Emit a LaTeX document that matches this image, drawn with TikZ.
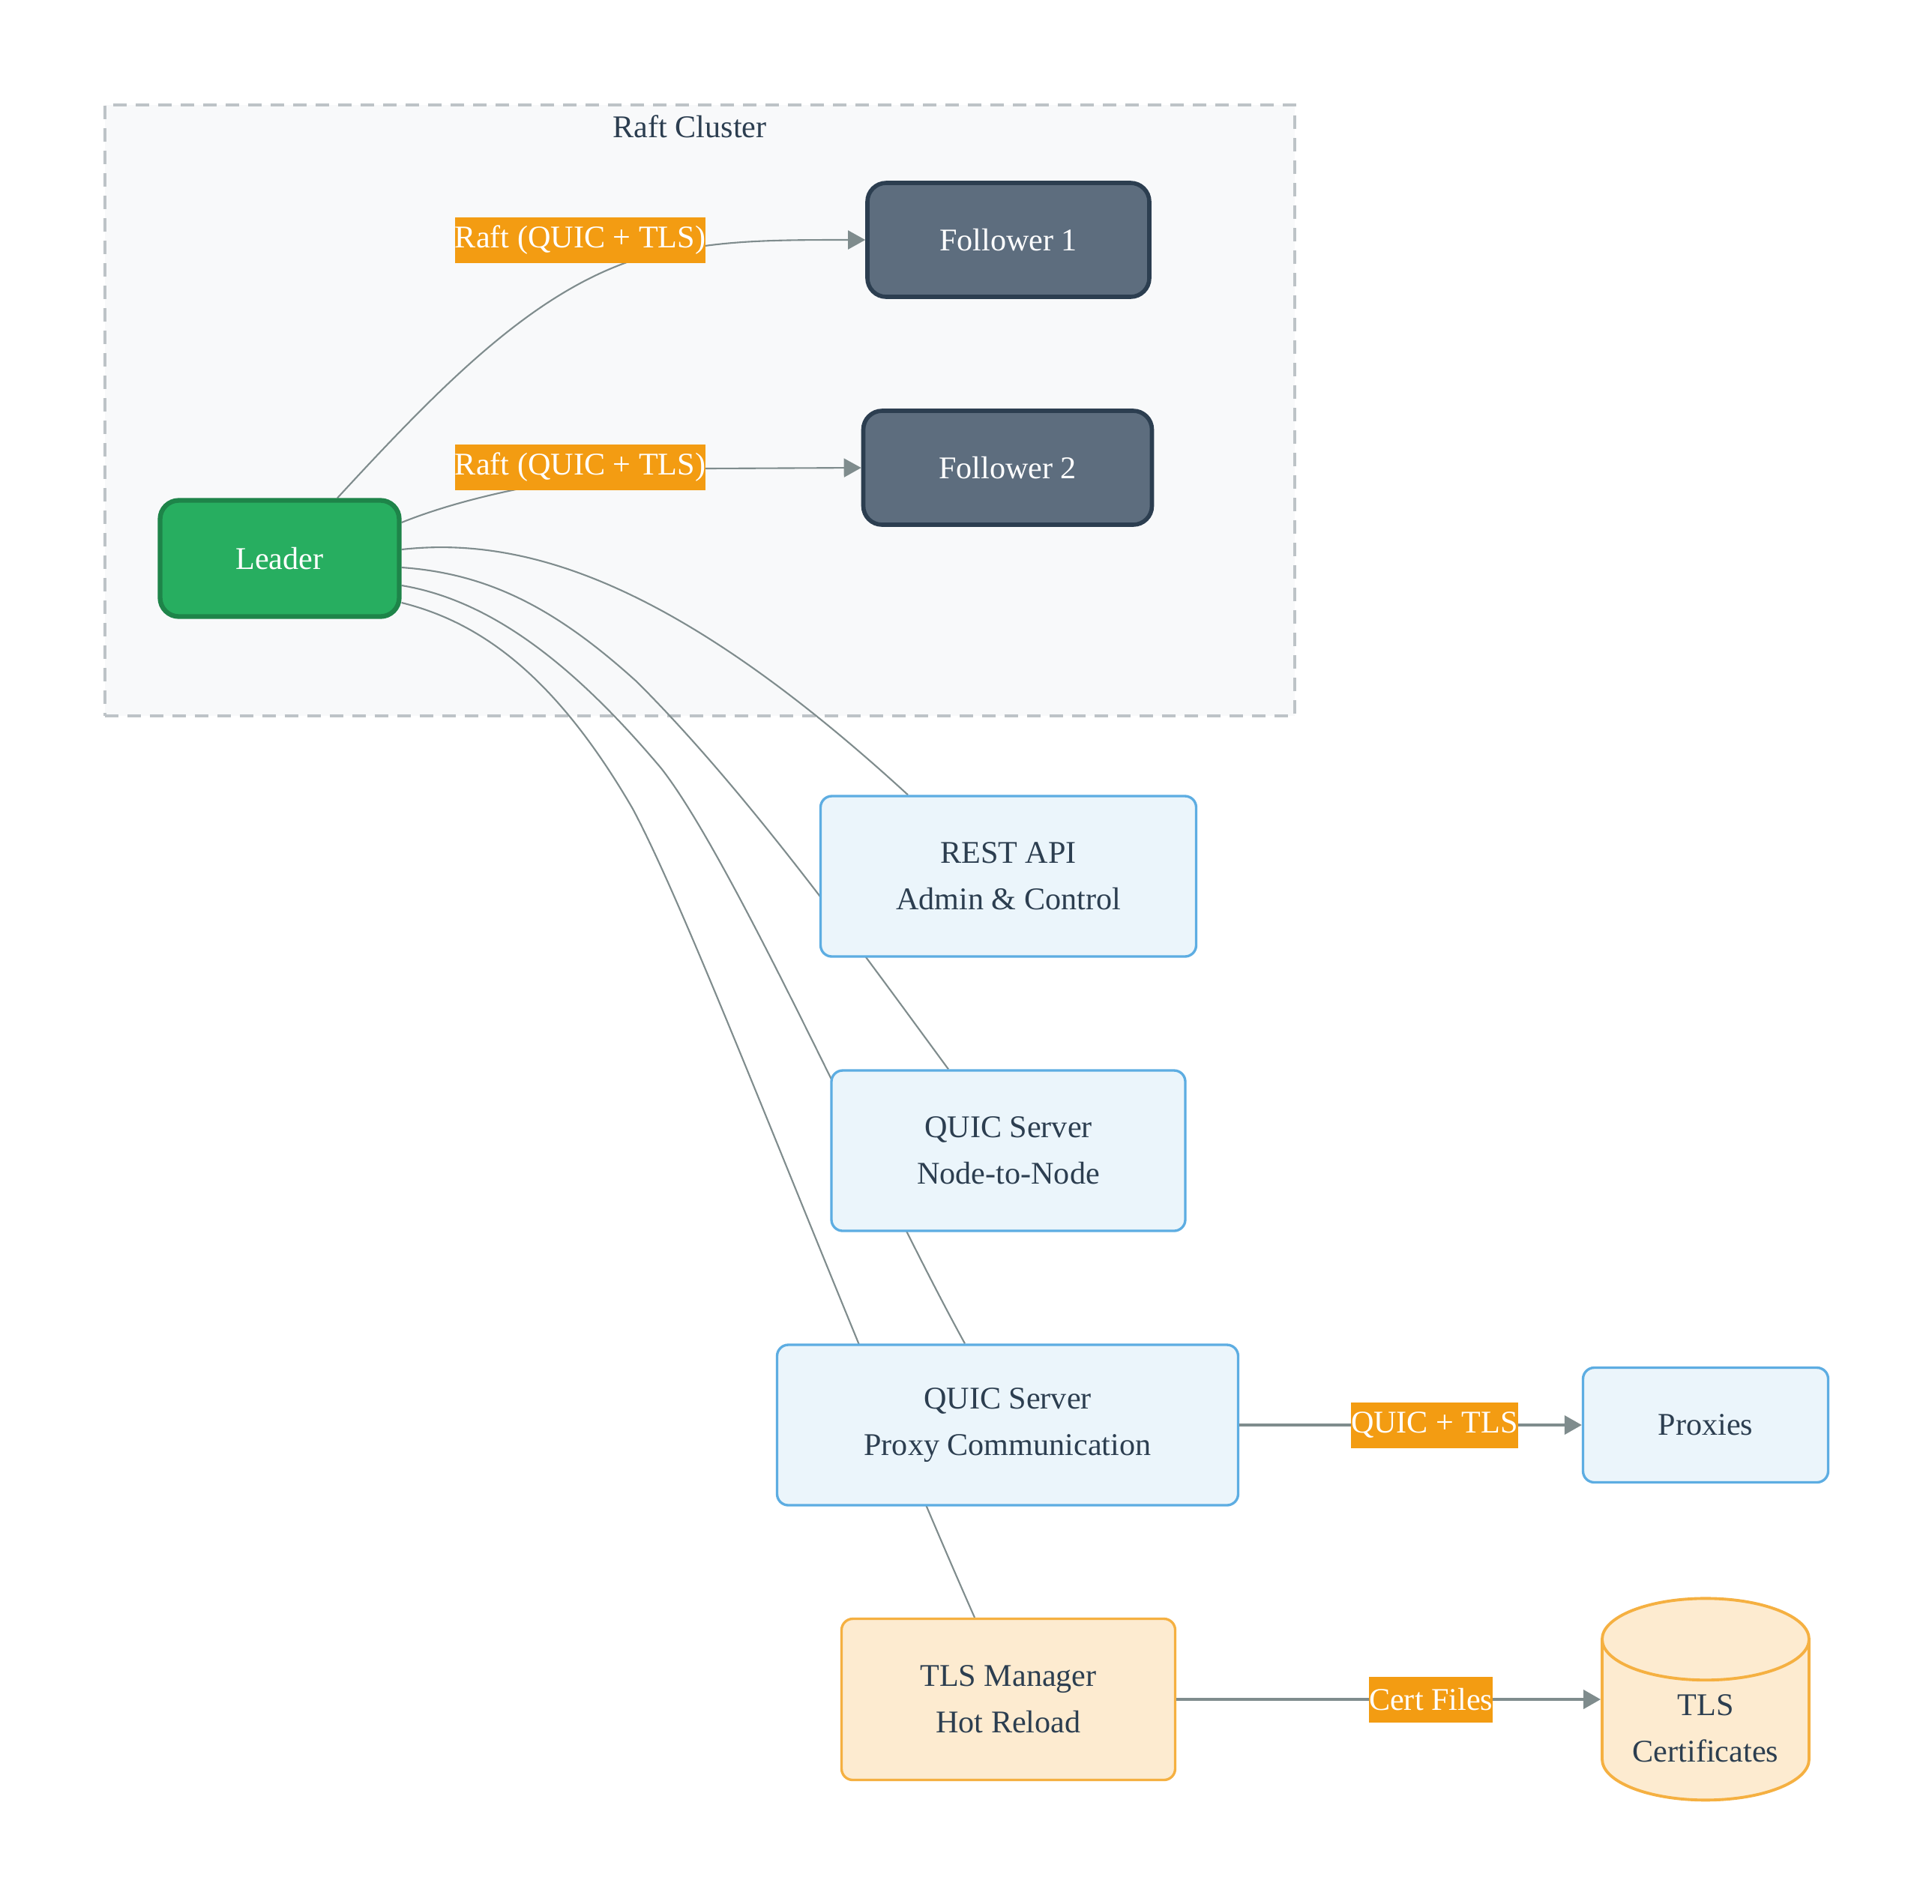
\documentclass[tikz,border=0pt]{standalone}
\usepackage{fontspec}
\setmainfont{Liberation Serif}
\usetikzlibrary{arrows.meta,shapes.geometric,backgrounds}
\definecolor{ink}{HTML}{2C3E50}
\definecolor{leadfill}{HTML}{27AE60}
\definecolor{leadline}{HTML}{1E8449}
\definecolor{folfill}{HTML}{5D6D7E}
\definecolor{folline}{HTML}{2C3E50}
\definecolor{svcfill}{HTML}{EBF5FB}
\definecolor{svcline}{HTML}{5DADE2}
\definecolor{tlsfill}{HTML}{FDEBD0}
\definecolor{tlsline}{HTML}{F5B041}
\definecolor{edgelab}{HTML}{F39C12}
\definecolor{edgeline}{HTML}{7F8C8D}
\definecolor{clusfill}{HTML}{F8F9FA}
\definecolor{clusline}{HTML}{BDC3C7}
\tikzset{
  box/.style={draw, rounded corners=0.15cm, align=center, text=ink, line width=0.95pt, font=\fontsize{12}{17.6}\selectfont},
  kleader/.style={box, fill=leadfill, draw=leadline, line width=1.8pt, rounded corners=0.25cm, text=white, minimum width=3.19cm, minimum height=1.55cm},
  kfollower/.style={box, fill=folfill, draw=folline, line width=1.6pt, rounded corners=0.25cm, text=white, minimum height=1.52cm},
  kservice/.style={box, fill=svcfill, draw=svcline, minimum height=2.14cm},
  kproxy/.style={box, fill=svcfill, draw=svcline, minimum height=1.53cm},
  ktls/.style={box, fill=tlsfill, draw=tlsline, minimum height=2.15cm},
  kstore/.style={cylinder, shape border rotate=90, aspect=0.5, draw=tlsline, fill=tlsfill, line width=1.1pt, align=center, text=ink, font=\fontsize{12}{17.6}\selectfont, minimum width=2.76cm, minimum height=2.69cm},
  klabel/.style={fill=edgelab, text=white, inner xsep=0pt, inner ysep=0pt, minimum height=0.61cm, font=\fontsize{12}{14}\selectfont},
  kcluster/.style={draw=clusline, fill=clusfill, line width=1.4pt, dash pattern=on 0.18cm off 0.12cm, minimum width=15.87cm, minimum height=8.15cm},
  link/.style={draw=edgeline, line width=0.6pt},
  flow/.style={link, -{Triangle[length=0.23cm, width=0.25cm]}},
  bigflow/.style={flow, line width=1.1pt},
}

\begin{document}
\begin{tikzpicture}
  \useasboundingbox (0,0) rectangle (25.77,-25.39);
  % nodes
  \node[kleader] (leader) at (3.73,-7.45) {Leader};
  \node[kfollower, minimum width=3.76cm] (fol1) at (13.45,-3.20) {Follower 1};
  \node[kfollower, minimum width=3.85cm] (fol2) at (13.44,-6.24) {Follower 2};
  \node[kservice, minimum width=5.01cm] (rest) at (13.45,-11.69) {REST API\\Admin \& Control};
  \node[kservice, minimum width=4.72cm] (qnode) at (13.45,-15.35) {QUIC Server\\Node-to-Node};
  \node[kservice, minimum width=6.15cm] (qproxy) at (13.44,-19.01) {QUIC Server\\Proxy Communication};
  \node[kproxy, minimum width=3.27cm] (proxies) at (22.75,-19.01) {Proxies};
  \node[ktls, minimum width=4.45cm] (tlsmgr) at (13.45,-22.67) {TLS Manager\\Hot Reload};
  \node[kstore] (certs) at (22.75,-23.06) {TLS\\Certificates};
  \node[klabel] (l1) at (7.74,-3.20) {Raft (QUIC + TLS)};
  \node[klabel] (l2) at (7.74,-6.23) {Raft (QUIC + TLS)};

  \begin{scope}[on background layer]
    \fill[white] (0,0) rectangle (25.77,-25.39);
    \node[kcluster] (cluster) at (9.335,-5.475) {};
    \node[text=ink, font=\fontsize{12}{14}\selectfont] (ctitle) at (9.20,-1.69) {Raft Cluster};
    % edges behind the boxes
    \draw[flow] ([xshift=0.77cm]leader.north) .. controls (6.20,-4.80) and (7.60,-3.40) .. (9.40,-3.28)
      .. controls (10.00,-3.20) and (10.60,-3.20) .. (fol1.west);
    \draw[flow] ([yshift=0.48cm]leader.east) .. controls (6.40,-6.55) and (8.00,-6.27) .. (9.40,-6.25) -- (fol2.west);
    \draw[link] ([yshift=0.12cm]leader.east) .. controls (7.00,-7.15) and (9.00,-7.75) .. ([xshift=-1.34cm]rest.north);
    \draw[link] ([yshift=-0.12cm]leader.east) .. controls (6.50,-7.65) and (7.40,-8.10) .. (8.50,-9.10)
      .. controls (10.00,-10.60) and (11.50,-12.70) .. ([xshift=-0.80cm]qnode.north);
    \draw[link] ([yshift=-0.36cm]leader.east) .. controls (6.50,-8.00) and (7.60,-8.80) .. (8.82,-10.25)
      .. controls (9.80,-11.50) and (11.70,-15.80) .. ([xshift=-0.57cm]qproxy.north);
    \draw[link] ([yshift=-0.59cm]leader.east) .. controls (6.40,-8.30) and (7.40,-9.00) .. (8.44,-10.79)
      .. controls (9.30,-12.40) and (11.20,-17.50) .. ([xshift=-0.45cm]tlsmgr.north);
  \end{scope}

  \draw[bigflow] (qproxy.east) -- (proxies.west) node[klabel, pos=0.57] (l3) {QUIC + TLS};
  \draw[bigflow] (tlsmgr.east) -- (tlsmgr.east -| certs.west) node[klabel, pos=0.60] (l4) {Cert Files};
\end{tikzpicture}
\end{document}
